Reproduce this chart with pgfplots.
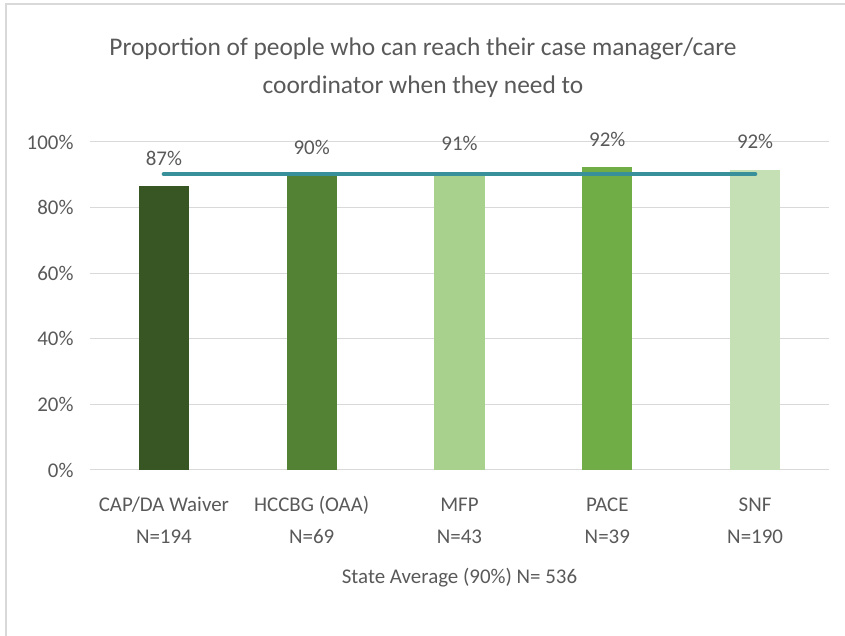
\documentclass[border=0pt]{standalone}
\usepackage{pgfplots}
\pgfplotsset{compat=1.18}
\usepackage{fontspec}
\setmainfont{Carlito}
\definecolor{txt}{HTML}{595959}
\definecolor{gridc}{HTML}{D9D9D9}
\definecolor{frame}{HTML}{D9D9D9}
\definecolor{cA}{HTML}{375623}
\definecolor{cB}{HTML}{548235}
\definecolor{cC}{HTML}{A9D18E}
\definecolor{cD}{HTML}{70AD47}
\definecolor{cE}{HTML}{C5E0B4}
\definecolor{avg}{HTML}{38919A}
\begin{document}
\begin{tikzpicture}
\useasboundingbox (0,0) rectangle (845bp,636bp);
% outer chart frame
\draw[frame, line width=2bp] (6bp,0) -- (6bp,632bp) -- (845bp,632bp);
\node[txt, font=\fontsize{25.5}{38}\selectfont, align=center] at (423bp,568bp)
  {Proportion of people who can reach their case manager/care\\coordinator when they need to};
\begin{axis}[
  scale only axis, width=739bp, height=328bp,
  at={(90bp,166bp)}, anchor=south west,
  xmin=-0.5, xmax=4.5, ymin=0, ymax=100,
  axis line style={draw=none}, tick style={draw=none},
  ymajorgrids, grid style={color=gridc, line width=1bp},
  ytick={0,20,40,60,80,100},
  yticklabels={0\%,20\%,40\%,60\%,80\%,100\%},
  xtick={0,1,2,3,4},
  xticklabels={CAP/DA Waiver\strut\\N=194\strut, HCCBG (OAA)\strut\\N=69\strut,
    MFP\strut\\N=43\strut, PACE\strut\\N=39\strut, SNF\strut\\N=190\strut},
  ticklabel style={font=\fontsize{21}{32}\selectfont, text=txt},
  xticklabel style={align=center, yshift=-16bp},
  yticklabel style={xshift=-13bp},
  xlabel={State Average (90\%) N= 536},
  xlabel style={at={(axis description cs:0.5,0)}, anchor=center, yshift=-108bp,
    font=\fontsize{21}{26}\selectfont, text=txt},
  every node near coord/.append style={font=\fontsize{21}{26}\selectfont, text=txt, yshift=17bp},
  clip=false,
]
\addplot[ybar, bar width=0.34, bar shift=0pt, fill=cA, draw=none,
  nodes near coords, point meta=explicit symbolic] coordinates {(0,86.6) [87\%]};
\addplot[ybar, bar width=0.34, bar shift=0pt, fill=cB, draw=none,
  nodes near coords, point meta=explicit symbolic] coordinates {(1,90.0) [90\%]};
\addplot[ybar, bar width=0.34, bar shift=0pt, fill=cC, draw=none,
  nodes near coords, point meta=explicit symbolic] coordinates {(2,91.0) [91\%]};
\addplot[ybar, bar width=0.34, bar shift=0pt, fill=cD, draw=none,
  nodes near coords, point meta=explicit symbolic] coordinates {(3,92.4) [92\%]};
\addplot[ybar, bar width=0.34, bar shift=0pt, fill=cE, draw=none,
  nodes near coords, point meta=explicit symbolic] coordinates {(4,91.6) [92\%]};
% state average
\addplot[sharp plot, avg, line width=4.5bp, line cap=round, mark=none]
  coordinates {(0,90.2) (4,90.2)};
\end{axis}
\end{tikzpicture}
\end{document}
